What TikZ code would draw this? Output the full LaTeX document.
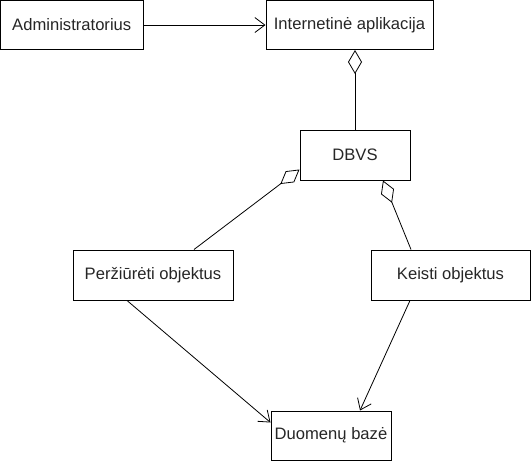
\documentclass[tikz,border=0pt]{standalone}
\usepackage{fontspec}
\setmainfont{Liberation Sans}
\usetikzlibrary{arrows.meta}
\begin{document}
\begin{tikzpicture}[x=1pt,y=-1pt,
  box/.style={draw=black,line width=1pt,inner sep=0pt,font=\fontsize{16.6}{19}\selectfont,text=black!85},
  conn/.style={draw=black,line width=0.8pt},
  openarrow/.style={conn,-{Straight Barb[length=10pt,width=15pt,line width=0.8pt]}},
  agg/.style={conn,{Diamond[open,length=24pt,width=14pt,line width=0.8pt]}-}]
\useasboundingbox (0,0) rectangle (531,461);
\node[box,minimum width=142.5pt,minimum height=49pt] (admin) at (71.75,25) {Administratorius};
\node[box,minimum width=167pt,minimum height=49pt] (inet) at (349.5,25) {Internetinė aplikacija};
\node[box,minimum width=110pt,minimum height=50pt] (dbvs) at (355,155) {DBVS};
\node[box,minimum width=160pt,minimum height=50pt] (perz) at (153,275) {Peržiūrėti objektus};
\node[box,minimum width=159pt,minimum height=50pt] (keisti) at (450.5,275) {Keisti objektus};
\node[box,minimum width=120pt,minimum height=49pt] (db) at (331,435.5) {Duomenų bazė};
\draw[openarrow] (admin.east) -- (inet.west);
\draw[agg] (inet.south -| dbvs.north) -- (dbvs.north);
\draw[agg] ([yshift=11pt]dbvs.south west) -- ([xshift=41pt]perz.north);
\draw[agg] ([xshift=28pt]dbvs.south) -- ([xshift=-39.5pt]keisti.north);
\draw[openarrow] ([xshift=-26pt]perz.south) -- ([yshift=-12pt]db.north west);
\draw[openarrow] ([xshift=-40.5pt]keisti.south) -- ([xshift=29pt]db.north);
\end{tikzpicture}
\end{document}
